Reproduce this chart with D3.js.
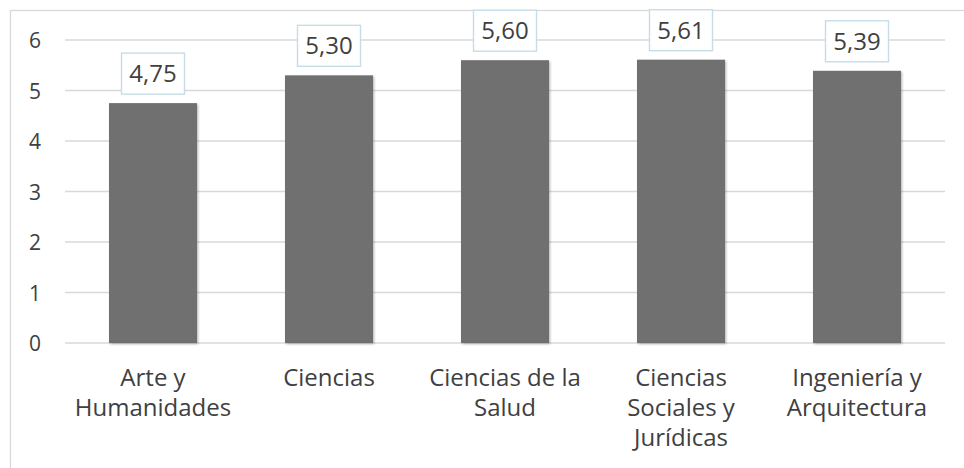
<!DOCTYPE html>
<html>
<head>
<meta charset="utf-8">
<script src="https://cdn.jsdelivr.net/npm/d3@7/dist/d3.min.js"></script>
<style>
  html, body { margin: 0; padding: 0; background: #fff; }
  svg { display: block; }
  text { font-family: "Open Sans", "Noto Sans", sans-serif; fill: #404040; }
</style>
</head>
<body>
<svg id="chart" width="964" height="468"></svg>
<script>
const categories = ["Arte y Humanidades", "Ciencias", "Ciencias de la Salud", "Ciencias Sociales y Jurídicas", "Ingeniería y Arquitectura"];
const categoryLines = [["Arte y", "Humanidades"], ["Ciencias"], ["Ciencias de la", "Salud"], ["Ciencias", "Sociales y", "Jurídicas"], ["Ingeniería y", "Arquitectura"]];
const values = [4.75, 5.30, 5.60, 5.61, 5.39];
const valueLabels = ["4,75", "5,30", "5,60", "5,61", "5,39"];
const yTicks = [0, 1, 2, 3, 4, 5, 6];

const svg = d3.select("#chart");

// outer chart border
svg.append("rect").attr("x", 10.5).attr("y", 10.5).attr("width", 980).attr("height", 500)
  .attr("fill", "#fff").attr("stroke", "#d9d9d9").attr("stroke-width", 1.3);

const defs = svg.append("defs");
const f = defs.append("filter").attr("id", "shadow").attr("x", "-10%").attr("y", "-10%").attr("width", "130%").attr("height", "130%");
f.append("feDropShadow").attr("dx", 1.2).attr("dy", 1.2).attr("stdDeviation", 1.2).attr("flood-color", "#000").attr("flood-opacity", 0.28);

const x = d3.scaleBand().domain(categories).range([65, 945]).paddingInner(0.5).paddingOuter(0.25);
const y = d3.scaleLinear().domain([0, 6]).range([343, 40]);

// gridlines
svg.append("g").selectAll("line").data(yTicks).join("line")
  .attr("x1", 65).attr("x2", 945)
  .attr("y1", d => y(d)).attr("y2", d => y(d))
  .attr("stroke", "#d9d9d9").attr("stroke-width", 1.4);

// y axis labels
const yAxis = d3.axisLeft(y).tickValues(yTicks).tickSize(0).tickPadding(0).tickFormat(d3.format("d"));
const gy = svg.append("g").attr("transform", "translate(41,0)").call(yAxis);
gy.select(".domain").remove();
gy.selectAll("text").attr("font-size", "21px").attr("font-family", "'Open Sans', sans-serif").attr("fill", "#404040").attr("dy", "0.36em");

// bars
svg.append("g").selectAll("rect").data(values).join("rect")
  .attr("x", (d, i) => x(categories[i]))
  .attr("width", x.bandwidth())
  .attr("y", d => y(d))
  .attr("height", d => y(0) - y(d))
  .attr("fill", "#707070")
  .attr("filter", "url(#shadow)");

// value labels
const lab = svg.append("g").selectAll("g").data(values).join("g")
  .attr("transform", (d, i) => `translate(${x(categories[i]) + x.bandwidth() / 2},${y(d) - 9})`);
lab.append("rect").attr("x", -31.5).attr("y", -41).attr("width", 63).attr("height", 41)
  .attr("fill", "#fff").attr("stroke", "#c6dde9").attr("stroke-width", 1.4);
lab.append("text").attr("text-anchor", "middle").attr("y", -12)
  .attr("font-size", "24px").text((d, i) => valueLabels[i]);

// category labels
const cg = svg.append("g").selectAll("text").data(categories).join("text")
  .attr("text-anchor", "middle")
  .attr("font-size", "24px")
  .attr("x", d => x(d) + x.bandwidth() / 2);
cg.each(function(d, i) {
  const t = d3.select(this);
  categoryLines[i].forEach((line, j) => {
    t.append("tspan").attr("x", x(d) + x.bandwidth() / 2).attr("y", 386 + j * 30).text(line);
  });
});
</script>
</body>
</html>
